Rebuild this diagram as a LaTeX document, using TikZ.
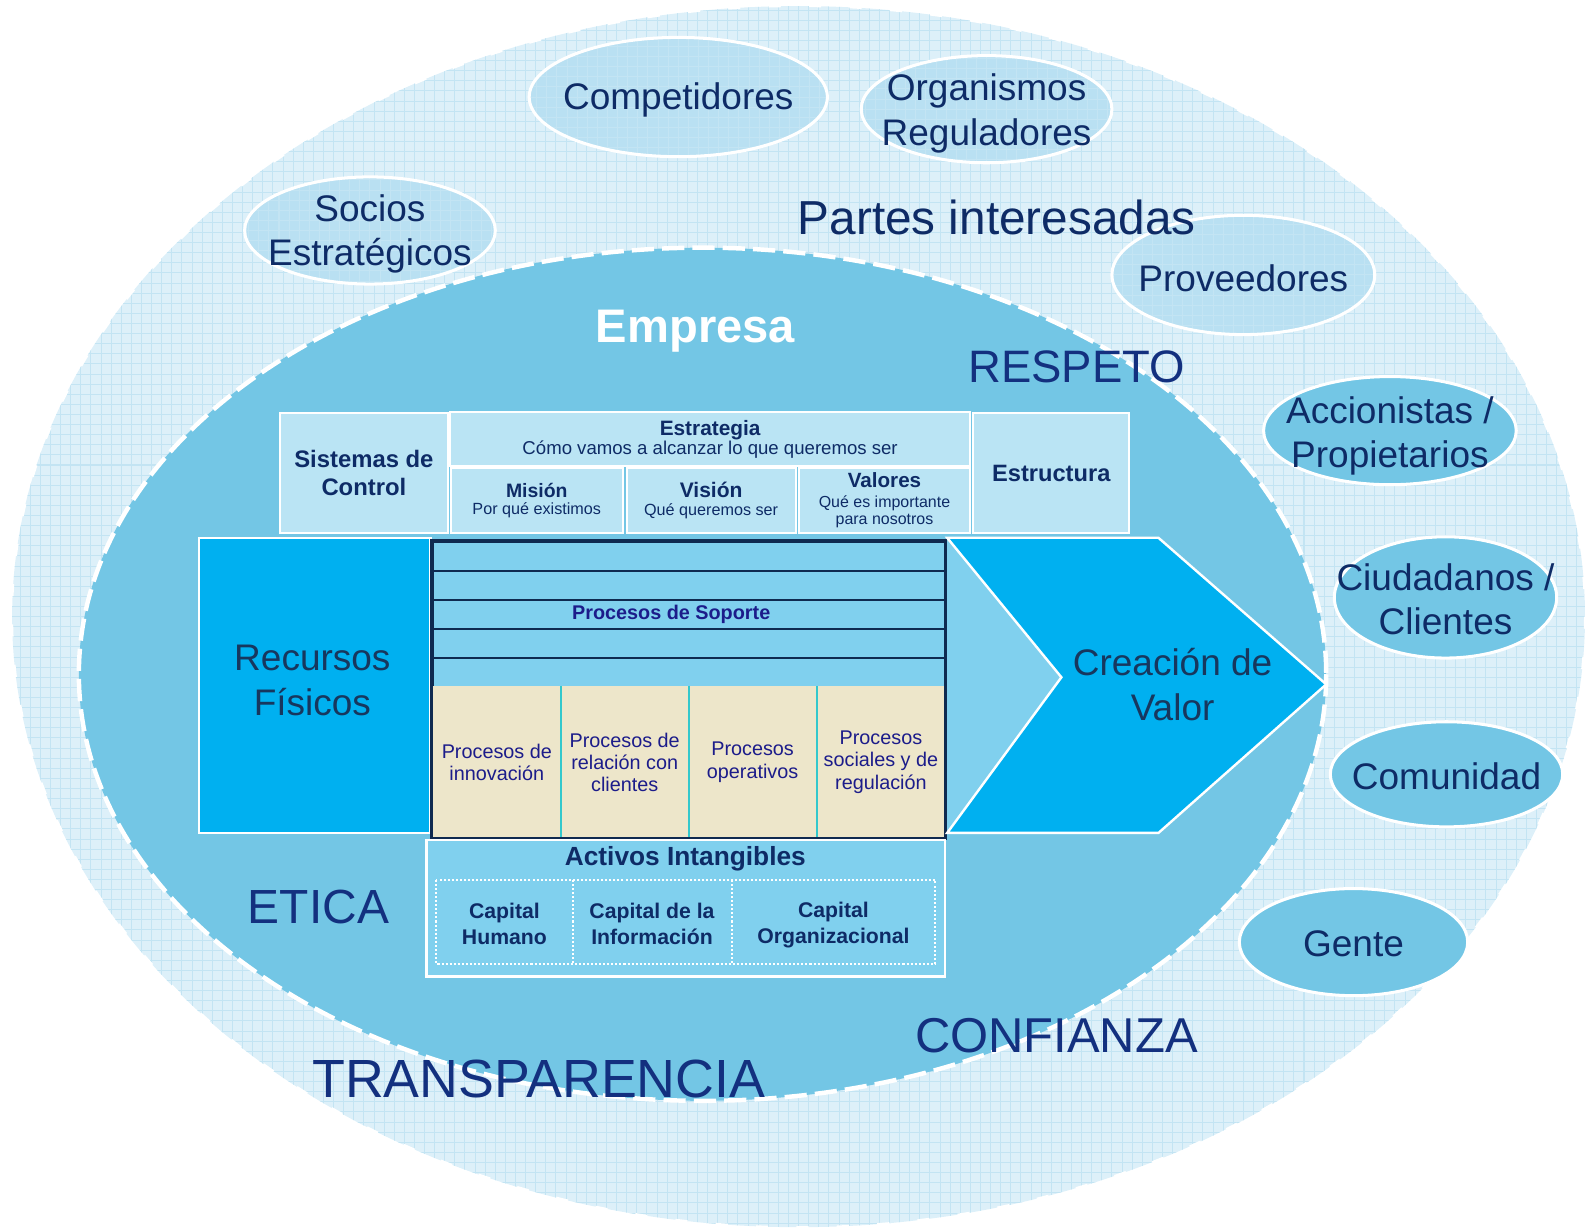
\documentclass[tikz,border=0pt]{standalone}
\usepackage{fontspec}
\setmainfont{Liberation Sans}
\usetikzlibrary{shapes.geometric}

\definecolor{navy}{HTML}{0E2B66}
\definecolor{valuenavy}{HTML}{13307F}
\definecolor{darkslate}{HTML}{17375E}
\definecolor{indigo}{HTML}{1C1C8A}
\definecolor{outerfill}{HTML}{DDF0F9}
\definecolor{gridclr}{HTML}{C3E4F3}
\definecolor{palefill}{HTML}{B9E0F2}
\definecolor{empresafill}{HTML}{73C6E5}
\definecolor{cyanbox}{HTML}{00B0F0}
\definecolor{rowblue}{HTML}{80D0EE}
\definecolor{boxpale}{HTML}{BAE4F4}
\definecolor{beige}{HTML}{EDE6CA}
\definecolor{tealline}{HTML}{33C8CC}
\definecolor{framenavy}{HTML}{0F2A50}

\tikzset{
  gridfill/.style={path picture={\draw[gridclr, line width=0.5pt, step=5pt]
      (path picture bounding box.south west) grid (path picture bounding box.north east);}},
  parte/.style={ellipse, draw=white, line width=1.5pt, inner sep=0pt},
  partepale/.style={parte, fill=palefill, gridfill},
  partesolid/.style={parte, fill=empresafill},
  partetxt/.style={text=navy, align=center, font=\fontsize{18.3}{21.8}\selectfont},
  valor/.style={text=valuenavy, font=\fontsize{22.5}{27}\selectfont},
  caja/.style={draw=white, line width=1pt, fill=boxpale, text=navy, align=center, inner sep=0pt},
  fila/.style={draw=framenavy, line width=1pt, fill=rowblue, minimum width=253.5pt,
    minimum height=14.3pt, inner sep=0pt},
  proceso/.style={fill=beige, minimum width=63.5pt, minimum height=75pt, inner sep=0pt,
    text=indigo, align=center, font=\fontsize{9.8}{11}\selectfont},
  capital/.style={minimum height=41pt, inner sep=0pt, text=navy, align=center,
    font=\bfseries\fontsize{10.5}{13}\selectfont},
}

\begin{document}
\begin{tikzpicture}[x=0.5pt, y=-0.5pt]
\useasboundingbox (0,0) rectangle (1568,1217);

% partes interesadas
\path[fill=outerfill, gridfill] (790,610) ellipse [x radius=778, y radius=604];
\draw[white, line width=1pt, dash pattern=on 6pt off 14pt] (790,610) ellipse [x radius=778, y radius=604];

\node[partepale, minimum width=124pt, minimum height=53pt] (socios) at (366,228) {};
\node[partetxt] at (366,231) {Socios\\Estratégicos};
\node[partepale, minimum width=147.5pt, minimum height=59pt] (competidores) at (671,96) {};
\node[partetxt] at (671,99) {Competidores};
\node[partepale, minimum width=124pt, minimum height=53pt] (organismos) at (976,108) {};
\node[partetxt, font=\fontsize{18.3}{22.5}\selectfont] at (976,112) {Organismos\\Reguladores};
\node[partepale, minimum width=130pt, minimum height=59pt] (proveedores) at (1230,272) {};
\node[partetxt] at (1230,275) {Proveedores};
\node[partesolid, minimum width=125pt, minimum height=53.5pt] (accionistas) at (1375,426) {};
\node[partetxt] at (1375,431) {Accionistas /\\Propietarios};
\node[partesolid, minimum width=110pt, minimum height=60pt] (ciudadanos) at (1430,591) {};
\node[partetxt] at (1430,593) {Ciudadanos /\\Clientes};
\node[partesolid, minimum width=115pt, minimum height=52pt] (comunidad) at (1431,766) {};
\node[partetxt] at (1431,768) {Comunidad};
\node[partesolid, minimum width=113pt, minimum height=53pt] (gente) at (1339,932) {};
\node[partetxt] at (1339,934) {Gente};

\node[text=navy, font=\fontsize{23.6}{28}\selectfont] (partes) at (986,215) {Partes interesadas};

% empresa
\path[fill=empresafill] (695,667) ellipse [x radius=617, y radius=422];
\draw[white, line width=2.2pt, dash pattern=on 11pt off 4pt] (695,667) ellipse [x radius=617, y radius=422];

\node[text=white, font=\bfseries\fontsize{23.3}{28}\selectfont] (empresa) at (688,328) {Empresa};

\node[caja, minimum width=83pt, minimum height=59pt, font=\bfseries\fontsize{11.8}{14}\selectfont] (control) at (360,468) {Sistemas de\\Control};
\node[caja, minimum width=257.5pt, minimum height=26.5pt, font=\fontsize{9.2}{9.5}\selectfont] (estrategia) at (702.5,434.5)
  {\bfseries\fontsize{10.3}{9.5}\selectfont Estrategia\\\fontsize{9.2}{9.5}\selectfont Cómo vamos a alcanzar lo que queremos ser};
\node[caja, minimum width=85pt, minimum height=32pt, font=\fontsize{8}{8.5}\selectfont] (mision) at (531,495)
  {\bfseries\fontsize{9.6}{8.5}\selectfont Misión\\\fontsize{8}{8.5}\selectfont Por qué existimos};
\node[caja, minimum width=83.5pt, minimum height=32pt, font=\fontsize{8}{8.5}\selectfont] (vision) at (703.5,495)
  {\bfseries\fontsize{10.4}{8.5}\selectfont Visión\\\fontsize{8}{8.5}\selectfont Qué queremos ser};
\node[caja, minimum width=85pt, minimum height=32pt, font=\fontsize{7.9}{8.3}\selectfont] (valores) at (875,495)
  {\bfseries\fontsize{10.2}{8.3}\selectfont Valores\\[1.6pt]\fontsize{7.9}{8.3}\selectfont Qué es importante\\\fontsize{7.9}{8.3}\selectfont para nosotros};
\node[caja, minimum width=77pt, minimum height=59pt, font=\bfseries\fontsize{11.7}{14}\selectfont] (estructura) at (1040,468) {Estructura};

\node[draw=white, line width=1.2pt, fill=cyanbox, minimum width=114.5pt, minimum height=146pt] (recursos) at (311.5,678) {};
\node[text=darkslate, align=center, font=\fontsize{18.3}{22.5}\selectfont] (recursostxt) at (309,673) {Recursos\\Físicos};

% procesos
\node[fila] (fila1) at (681.5,550.5) {};
\node[fila] (fila2) at (681.5,579.1) {};
\node[fila] (fila3) at (681.5,607.7) {};
\node[fila] (fila4) at (681.5,636.3) {};
\node[fila] (fila5) at (681.5,664.9) {};
\node[text=indigo, font=\bfseries\fontsize{9.8}{11}\selectfont] (soporte) at (664,608) {Procesos de Soporte};

\node[proceso] (innovacion) at (491.5,754) {Procesos de\\innovación};
\node[proceso] (relacion) at (618,754) {Procesos de\\relación con\\clientes};
\node[proceso] (operativos) at (744.5,754) {Procesos\\operativos};
\node[proceso] (sociales) at (871.5,754) {Procesos\\sociales y de\\regulación};
\draw[tealline, line width=1pt] (innovacion.north east) -- (innovacion.south east);
\draw[tealline, line width=1pt] (relacion.north east) -- (relacion.south east);
\draw[tealline, line width=1pt] (operativos.north east) -- (operativos.south east);
\draw[framenavy, line width=1.5pt] (fila1.north west) rectangle (sociales.south east);

% creacion de valor
\fill[rowblue] (937,532) -- (1050,670) -- (937,824) -- cycle;
\draw[white, line width=1.2pt, fill=cyanbox] (937,532) -- (1146,532) -- (1312,677) -- (1146,824) -- (937,824) -- (1050,670) -- cycle;
\node[text=darkslate, align=center, font=\fontsize{18.3}{22.5}\selectfont] (creacion) at (1160,677) {Creación de\\Valor};

% activos intangibles
\node[draw=white, line width=1.2pt, fill=rowblue, minimum width=256.5pt, minimum height=67.5pt] (activos) at (678.5,898.5) {};
\node[text=navy, font=\bfseries\fontsize{13}{15}\selectfont] (activostit) at (678,850) {Activos Intangibles};
\node[capital, minimum width=67pt] (humano) at (499,912) {};
\node[capital, minimum width=79pt] (informacion) at (645,912) {};
\node[capital, minimum width=100.5pt] (organizacional) at (824.5,912) {};
\node[capital] at (499,914) {Capital\\Humano};
\node[capital] at (645,914) {Capital de la\\Información};
\node[capital] at (824.5,915) {Capital\\Organizacional};
\draw[white, line width=1pt, densely dotted] (humano.north west) rectangle (organizacional.south east);
\draw[white, line width=1pt, densely dotted] (humano.north east) -- (humano.south east);
\draw[white, line width=1pt, densely dotted] (informacion.north east) -- (informacion.south east);

% valores
\node[valor] (respeto) at (1065,363) {RESPETO};
\node[valor, font=\fontsize{23.7}{28}\selectfont] (etica) at (315,897) {ETICA};
\node[valor, font=\fontsize{24.2}{28}\selectfont] (confianza) at (1045,1025) {CONFIANZA};
\node[valor, font=\fontsize{26.6}{30}\selectfont] (transparencia) at (533,1067) {TRANSPARENCIA};
\end{tikzpicture}
\end{document}
